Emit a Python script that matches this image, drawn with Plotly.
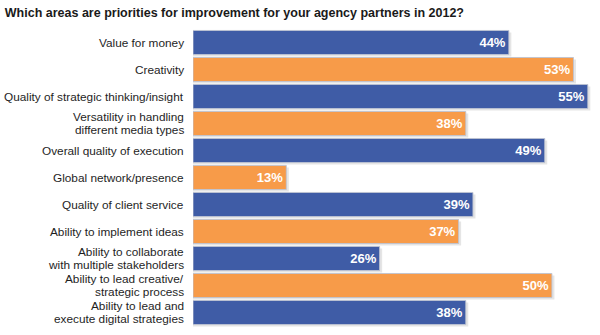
import plotly.graph_objects as go

categories = [
    "Value for money",
    "Creativity",
    "Quality of strategic thinking/insight",
    "Versatility in handling<br>different media types",
    "Overall quality of execution",
    "Global network/presence",
    "Quality of client service",
    "Ability to implement ideas",
    "Ability to collaborate<br>with multiple stakeholders",
    "Ability to lead creative/<br>strategic process",
    "Ability to lead and<br>execute digital strategies",
]
values = [44, 53, 55, 38, 49, 13, 39, 37, 26, 50, 38]
value_labels = [f"{v}%" for v in values]
palette = ["#3F5CA6", "#F79B49"]
colors = [palette[i % 2] for i in range(len(values))]

FONT = "Liberation Sans, Arial, sans-serif"
BAR_W = 0.89

fig = go.Figure()
# soft drop shadow behind each bar
fig.add_trace(go.Bar(
    x=[v + 0.35 for v in values], y=categories, orientation="h",
    width=BAR_W, offset=-BAR_W / 2 + 0.07,
    marker=dict(color="rgba(0,0,0,0.10)", line=dict(width=0)),
    hoverinfo="skip",
))
fig.add_trace(go.Bar(
    x=values, y=categories, orientation="h", width=BAR_W,
    marker=dict(color=colors, line=dict(color="rgba(190,195,210,0.9)", width=1)),
    text=value_labels, textposition="inside", insidetextanchor="end",
    textfont=dict(color="white", size=13, family=FONT, weight="bold"),
    textangle=0, cliponaxis=False,
))

# category labels as annotations (tight line spacing like the reference)
line_h = 13
for cat in categories:
    lines = cat.split("<br>")
    n = len(lines)
    for i, ln in enumerate(lines):
        fig.add_annotation(
            x=0, y=cat, xref="x", yref="y", text=ln, showarrow=False,
            xanchor="right", yanchor="middle", xshift=-8,
            yshift=((n - 1) / 2 - i) * line_h, borderpad=0,
            font=dict(size=11.8, color="#1e1e1e", family=FONT),
        )

fig.update_layout(
    width=600, height=335,
    margin=dict(l=193, r=5, t=29, b=8),
    paper_bgcolor="white", plot_bgcolor="white",
    barmode="overlay",
    showlegend=False,
    title=dict(
        text="<b>Which areas are priorities for improvement for your agency partners in 2012?</b>",
        x=0.008, xanchor="left", y=0.963, yanchor="middle",
        font=dict(size=12.5, color="#1a1a1a", family=FONT),
    ),
    font=dict(family=FONT, color="#222"),
    uniformtext=dict(minsize=8, mode="show"),
)
fig.update_xaxes(range=[0, 56], visible=False, fixedrange=True)
fig.update_yaxes(autorange="reversed", showticklabels=False, showgrid=False,
                 zeroline=False, showline=False, automargin=False)

fig.write_html("out.html")
